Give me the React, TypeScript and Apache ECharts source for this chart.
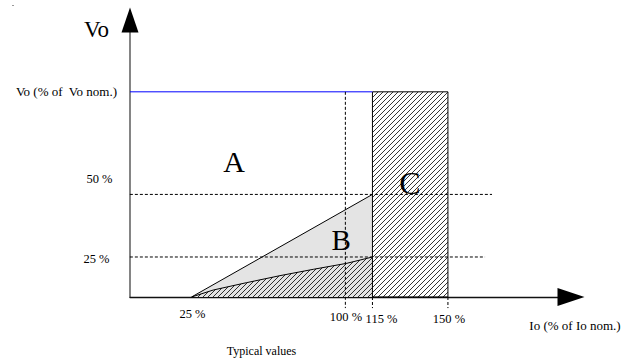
import React, { useEffect, useRef } from "react";
import * as echarts from "echarts";

// ---- values (Io and Vo in % of nominal) ----
const voNominal = 100;          // blue "Vo nom." line
const voUpperDashed = 50;       // "50 %" dashed line
const voLowerDashed = 19.5;     // "25 %" dashed line (as drawn)
const ioStart = 25;             // start of zone B
const ioNominal = 100;          // 100 % dashed line
const ioLimit = 113.2;          // left edge of zone C (labelled 115 %)
const ioMaxLimit = 150;         // right edge of zone C
const triangleIo = [ioStart, ioLimit];
const triangleVo = [0, voUpperDashed];
const curveIo = [25, 35.6, 51.9, 68.1, 84.4, 100.6, 113.2];
const curveVo = [0, 3.4, 7.0, 10.4, 13.5, 16.4, 19.5];
const dashedLeftIo = -7.5;
const dashedRightIo = [171.5, 168.1];
const tickBottomVo = -5.4;
const ioTickLabels = ["25 %", "100 %", "115 %", "150 %"];
const voTickLabels = ["50 %", "25 %"];

const X_MIN = -5;
const X_MAX = 210;
const Y_MIN = 0;
const Y_MAX = 135;

const SERIF = '"Liberation Serif", "Times New Roman", serif';
const HATCH_STEP = 5;

function hatch(pts: number[][], step: number) {
  const sums = pts.map((p) => p[0] + p[1]);
  const cMin = Math.min(...sums);
  const cMax = Math.max(...sums);
  const segs: number[][][] = [];
  for (let c = Math.ceil(cMin / step) * step; c <= cMax; c += step) {
    const hits: number[][] = [];
    for (let i = 0; i < pts.length; i++) {
      const p = pts[i];
      const q = pts[(i + 1) % pts.length];
      const fp = p[0] + p[1] - c;
      const fq = q[0] + q[1] - c;
      if ((fp < 0 && fq >= 0) || (fp >= 0 && fq < 0)) {
        const t = fp / (fp - fq);
        hits.push([p[0] + t * (q[0] - p[0]), p[1] + t * (q[1] - p[1])]);
      }
    }
    hits.sort((a, b) => a[0] - b[0]);
    for (let k = 0; k + 1 < hits.length; k += 2) segs.push([hits[k], hits[k + 1]]);
  }
  return segs;
}

function hatchGroup(poly: number[][], extra: any[]) {
  const lines = hatch(poly, HATCH_STEP).map((s) => ({
    type: "line",
    shape: { x1: s[0][0], y1: s[0][1], x2: s[1][0], y2: s[1][1] },
    style: { stroke: "#000", lineWidth: 0.8 },
  }));
  return { type: "group", children: [...lines, ...extra] };
}

export default function App() {
  const ref = useRef<HTMLDivElement>(null);

  useEffect(() => {
    document.body.style.margin = "0";
    if (!ref.current) return;
    const chart = echarts.init(ref.current, undefined, { renderer: "svg" });

    const dashedSegments: number[][][] = [
      [[dashedLeftIo, voUpperDashed], [dashedRightIo[0], voUpperDashed]],
      [[dashedLeftIo, voLowerDashed], [dashedRightIo[1], voLowerDashed]],
      [[ioNominal, voNominal], [ioNominal, tickBottomVo]],
      [[ioLimit, 0], [ioLimit, tickBottomVo]],
      [[ioMaxLimit, 0], [ioMaxLimit, tickBottomVo]],
    ];

    const txt = (text: string, x: number, y: number, size: number, align = "center") => ({
      type: "text",
      x,
      y,
      z: 100,
      silent: true,
      style: {
        text,
        font: `${size}px ${SERIF}`,
        fill: "#000",
        align,
        textAlign: align,
        verticalAlign: "middle",
        textVerticalAlign: "middle",
      },
    });

    chart.setOption({
      animation: false,
      backgroundColor: "#fff",
      grid: { left: 130, top: 20, width: 441, height: 277 },
      xAxis: {
        type: "value",
        min: X_MIN,
        max: X_MAX,
        axisLine: {
          show: true,
          onZero: false,
          lineStyle: { color: "#111", width: 1.3 },
        },
        axisTick: { show: false },
        axisLabel: { show: false },
        splitLine: { show: false },
      },
      yAxis: {
        type: "value",
        min: Y_MIN,
        max: Y_MAX,
        axisLine: {
          show: true,
          onZero: false,
          lineStyle: { color: "#666", width: 1.6 },
        },
        axisTick: { show: false },
        axisLabel: { show: false },
        splitLine: { show: false },
      },
      series: [
        {
          type: "line",
          name: "B",
          data: triangleIo.map((v, i) => [v, triangleVo[i]]),
          symbol: "none",
          lineStyle: { color: "#000", width: 1 },
          areaStyle: { color: "#e4e4e4", opacity: 1 },
          z: 1,
        },
        {
          type: "custom",
          name: "B hatched",
          coordinateSystem: "cartesian2d",
          data: [[ioLimit, 0]],
          z: 2,
          renderItem: (_p: any, api: any) => {
            const curve = curveIo.map((v, i) => api.coord([v, curveVo[i]]));
            const poly = [...curve, api.coord([ioLimit, 0])];
            return hatchGroup(poly, [
              {
                type: "polyline",
                shape: { points: curve },
                style: { stroke: "#000", lineWidth: 1, fill: "none" },
              },
            ]);
          },
        },
        {
          type: "custom",
          name: "C",
          coordinateSystem: "cartesian2d",
          data: [[ioMaxLimit, voNominal]],
          z: 3,
          renderItem: (_p: any, api: any) => {
            const poly = [
              api.coord([ioLimit, 0]),
              api.coord([ioMaxLimit, 0]),
              api.coord([ioMaxLimit, voNominal]),
              api.coord([ioLimit, voNominal]),
            ];
            return hatchGroup(poly, [
              {
                type: "polygon",
                shape: { points: poly },
                style: { stroke: "#000", lineWidth: 1, fill: "none" },
              },
            ]);
          },
        },
        {
          type: "custom",
          name: "axis arrows",
          coordinateSystem: "cartesian2d",
          data: [[X_MAX, Y_MAX]],
          clip: false,
          z: 6,
          renderItem: (_p: any, api: any) => {
            const xe = api.coord([X_MAX, Y_MIN]);
            const ye = api.coord([X_MIN, Y_MAX]);
            return {
              type: "group",
              children: [
                {
                  type: "polygon",
                  shape: {
                    points: [
                      [xe[0] - 13.5, xe[1] - 9],
                      [xe[0] + 13.5, xe[1]],
                      [xe[0] - 13.5, xe[1] + 9],
                    ],
                  },
                  style: { fill: "#000" },
                },
                {
                  type: "polygon",
                  shape: {
                    points: [
                      [ye[0] - 8.5, ye[1] + 12.5],
                      [ye[0], ye[1] - 12.5],
                      [ye[0] + 8.5, ye[1] + 12.5],
                    ],
                  },
                  style: { fill: "#000" },
                },
              ],
            };
          },
        },
        {
          type: "line",
          name: "Vo nom",
          data: [[X_MIN, voNominal], [ioLimit, voNominal]],
          symbol: "none",
          lineStyle: { color: "#0000ff", width: 1 },
          z: 4,
        },
        ...dashedSegments.map((seg) => ({
          type: "line",
          data: seg,
          symbol: "none",
          clip: false,
          lineStyle: { color: "#000", width: 1, type: [3, 2] },
          z: 5,
        })),
      ],
      graphic: [
        { type: "rect", z: 100, shape: { x: 12, y: 5, width: 2, height: 1 }, style: { fill: "#999" } },
        txt("Vo", 96.5, 29.5, 23),
        txt("Vo (% of  Vo nom.)", 117, 91, 13, "right"),
        txt(voTickLabels[0], 99.5, 178.5, 12.5),
        txt(voTickLabels[1], 96.5, 259, 12.5),
        txt(ioTickLabels[0], 192.5, 313.5, 12.5),
        txt(ioTickLabels[1], 346, 317, 12.5),
        txt(ioTickLabels[2], 381.5, 319, 12.5),
        txt(ioTickLabels[3], 449, 319, 12.5),
        txt("Io (% of Io nom.)", 575, 325, 13),
        txt("Typical values", 261.5, 351, 12),
        txt("A", 234, 161.5, 30),
        txt("B", 341.2, 239.7, 29),
        txt("C", 410, 183, 32),
      ],
    });

    return () => chart.dispose();
  }, []);

  return <div ref={ref} style={{ width: 633, height: 362 }} />;
}
